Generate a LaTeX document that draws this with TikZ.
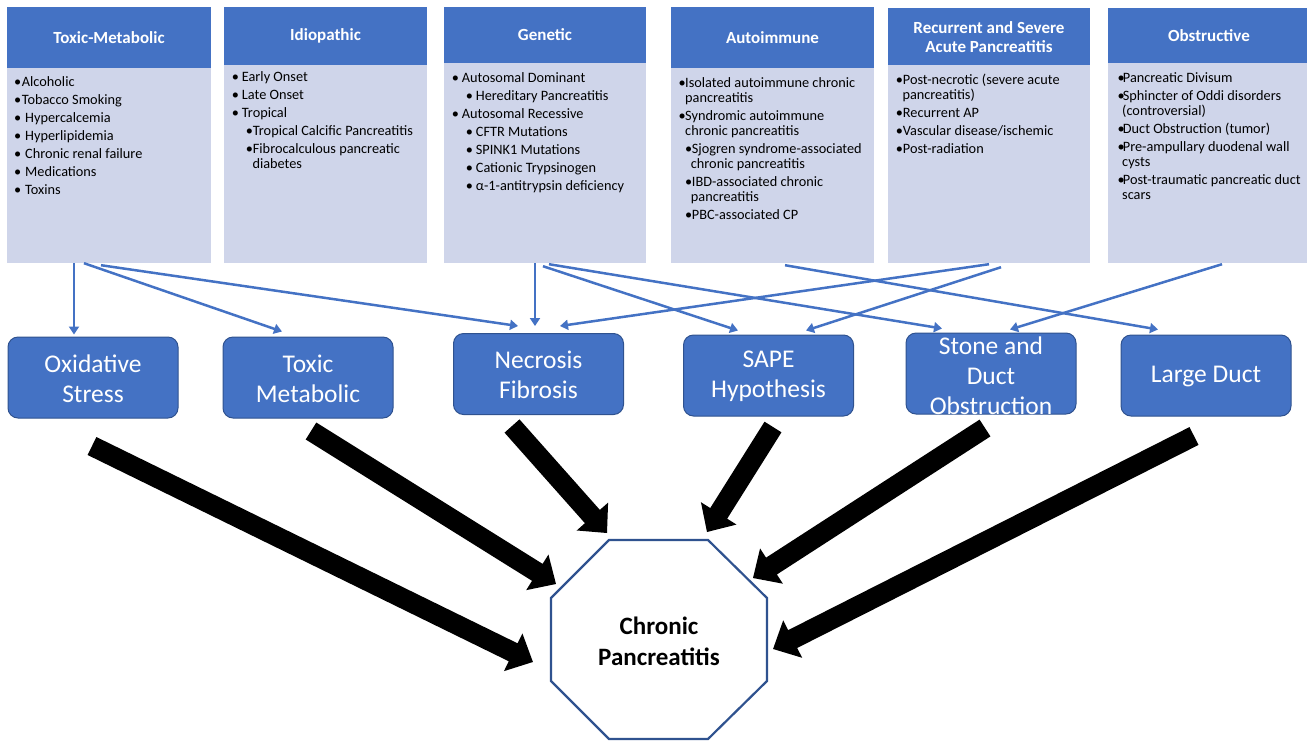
\documentclass[tikz,border=0pt]{standalone}
\usepackage{fontspec}
\setmainfont{Carlito}
\usetikzlibrary{arrows.meta,calc}
\definecolor{hdrblue}{HTML}{4472C4}
\definecolor{bodyblue}{HTML}{CFD5EA}
\definecolor{edgeblue}{HTML}{2F528F}
\newcommand\itm[3]{\hspace*{#1pt}\makebox[#2pt][l]{\textbullet}#3}
\newcommand\cnt[2]{\hspace*{#1pt}#2}
\newcommand\blockarrow[2]{%
  \pgfmathanglebetweenpoints{\pgfpointanchor{#1}{center}}{\pgfpointanchor{#2}{center}}%
  \edef\baang{\pgfmathresult}%
  \pgfpointdiff{\pgfpointanchor{#1}{center}}{\pgfpointanchor{#2}{center}}%
  \pgfgetlastxy{\badx}{\bady}%
  \pgfmathsetmacro\balen{veclen(\badx,\bady)}%
  \fill[black,shift={(#1)},rotate=\baang,x=1pt,y=1pt]
    (0,-10) -- ({\balen-22},-10) -- ({\balen-22},-21) -- (\balen,0)
    -- ({\balen-22},21) -- ({\balen-22},10) -- (0,10) -- cycle;}
\tikzset{
  hdr/.style={fill=hdrblue, text=white, font=\fontsize{17}{18.3}\selectfont\bfseries, align=center, inner sep=0pt},
  bodybox/.style={fill=bodyblue, inner sep=0pt},
  bodytxt/.style={anchor=north west, inner sep=0pt, align=left, font=\fontsize{14.3}{15}\selectfont},
  mech/.style={rounded corners=10pt, fill=hdrblue, draw=edgeblue, line width=1pt, minimum width=170pt, minimum height=81pt, inner sep=0pt},
  mechtxt/.style={text=white, align=center, font=\fontsize{25.5}{30}\selectfont, inner sep=0pt},
  link/.style={draw=hdrblue, line width=2.5pt, -{Triangle[length=8pt,width=10pt]}},
}
\begin{document}
\begin{tikzpicture}[x=1pt,y=-1pt]
\useasboundingbox (0,0) rectangle (1307,740);
% ---- top category boxes
\node[hdr, minimum width=204pt, minimum height=61pt] (h1) at (109,37.5) {Toxic-Metabolic};
\node[bodybox, minimum width=204pt, minimum height=195pt] (b1) at (109,165.5) {};
\node[hdr, minimum width=203pt, minimum height=58pt] (h2) at (325.5,36) {Idiopathic};
\node[bodybox, minimum width=203pt, minimum height=198pt] (b2) at (325.5,164) {};
\node[hdr, minimum width=202pt, minimum height=56pt] (h3) at (545,35) {Genetic};
\node[bodybox, minimum width=202pt, minimum height=200pt] (b3) at (545,163) {};
\node[hdr, minimum width=203pt, minimum height=61pt] (h4) at (772.5,37.5) {Autoimmune};
\node[bodybox, minimum width=203pt, minimum height=195pt] (b4) at (772.5,165.5) {};
\node[hdr, minimum width=202pt, minimum height=58pt] (h5) at (989,37) {Recurrent and Severe\\Acute Pancreatitis};
\node[bodybox, minimum width=202pt, minimum height=198pt] (b5) at (989,164) {};
\node[hdr, minimum width=202pt, minimum height=56pt] (h6) at (1209,35.5) {Obstructive};
\node[bodybox, minimum width=202pt, minimum height=200pt] (b6) at (1209,163) {};
% ---- body texts
\node[bodytxt] (t1) at (14,76.2) {\strut\itm{0}{7.7}{Alcoholic}\\[3pt]\itm{0}{7.7}{Tobacco Smoking}\\[3pt]\itm{0}{11}{Hypercalcemia}\\[3pt]\itm{0}{11}{Hyperlipidemia}\\[3pt]\itm{0}{11}{Chronic renal failure}\\[3pt]\itm{0}{11}{Medications}\\[3pt]\itm{0}{11}{Toxins}};
\node[bodytxt] (t2) at (231.7,71.2) {\strut\itm{0}{10}{Early Onset}\\[3pt]\itm{0}{10}{Late Onset}\\[3pt]\itm{0}{10}{Tropical}\\[3pt]\itm{14}{7}{Tropical Calcific Pancreatitis}\\[3pt]\itm{14}{7}{Fibrocalculous pancreatic}\\\cnt{20.6}{diabetes}};
\node[bodytxt] (t3) at (451.7,71.5) {\strut\itm{0}{10}{Autosomal Dominant}\\[3pt]\itm{14}{10}{Hereditary Pancreatitis}\\[3pt]\itm{0}{10}{Autosomal Recessive}\\[3pt]\itm{14}{10}{CFTR Mutations}\\[3pt]\itm{14}{10}{SPINK1 Mutations}\\[3pt]\itm{14}{10}{Cationic Trypsinogen}\\[3pt]\itm{14}{10}{α-1-antitrypsin deficiency}};
\node[bodytxt] (t4) at (678.3,76.8) {\strut\itm{0}{6.7}{Isolated autoimmune chronic}\\\cnt{6.7}{pancreatitis}\\[3pt]\itm{0}{6.7}{Syndromic autoimmune}\\\cnt{6.7}{chronic pancreatitis}\\[3pt]\itm{6.7}{6.7}{Sjogren syndrome-associated}\\\cnt{12.4}{chronic pancreatitis}\\[3pt]\itm{6.7}{6.7}{IBD-associated chronic}\\\cnt{12.4}{pancreatitis}\\[3pt]\itm{6.7}{6.7}{PBC-associated CP}};
\node[bodytxt] (t5) at (895.7,73.5) {\strut\itm{0}{7}{Post-necrotic (severe acute}\\\cnt{6.6}{pancreatitis)}\\[3pt]\itm{0}{7}{Recurrent AP}\\[3pt]\itm{0}{7}{Vascular disease/ischemic}\\[3pt]\itm{0}{7}{Post-radiation}};
\node[bodytxt] (t6) at (1117.3,71.5) {\strut\itm{0}{5.4}{Pancreatic Divisum}\\[3pt]\itm{0}{5.4}{Sphincter of Oddi disorders}\\\cnt{4.7}{(controversial)}\\[3pt]\itm{0}{5.4}{Duct Obstruction (tumor)}\\[3pt]\itm{0}{5.4}{Pre-ampullary duodenal wall}\\\cnt{4.7}{cysts}\\[3pt]\itm{0}{5.4}{Post-traumatic pancreatic duct}\\\cnt{4.7}{scars}};
% ---- mechanism boxes
\node[mech] (os) at (93,377.5) {};
\node[mech] (tmb) at (308,377.5) {};
\node[mech] (nf) at (538.5,374) {};
\node[mech] (sape) at (768.5,375.5) {};
\node[mech] (stone) at (991,373.5) {};
\node[mech] (ld) at (1206,375.5) {};
\node[mechtxt] (os-t) at ([yshift=-1pt]os) {Oxidative\\Stress};
\node[mechtxt] (tmb-t) at ([yshift=-1pt]tmb) {Toxic\\Metabolic};
\node[mechtxt] (nf-t) at ([yshift=-1pt]nf) {Necrosis\\Fibrosis};
\node[mechtxt] (sape-t) at ([yshift=-1pt]sape) {SAPE\\Hypothesis};
\node[mechtxt] (stone-t) at ([yshift=-2pt]stone) {Stone and\\Duct\\Obstruction};
\node[mechtxt] (ld-t) at ([yshift=-1pt]ld) {Large Duct};
% ---- thin connectors
\draw[link] ([xshift=-35pt]b1.south) -- ([xshift=-19pt,yshift=2pt]os.north);
\draw[link] ([xshift=-25pt]b1.south) -- ([xshift=-26pt,yshift=5pt]tmb.north);
\draw[link] ([xshift=-8pt,yshift=-2pt]b1.south) -- ([xshift=-20.5pt,yshift=7pt]nf.north);
\draw[link] ([xshift=-10pt]b3.south) -- ([xshift=-3.5pt,yshift=7pt]nf.north);
\draw[link] ([xshift=-2pt,yshift=-3pt]b3.south) -- ([xshift=-30.5pt,yshift=4pt]sape.north);
\draw[link] ([xshift=4pt,yshift=-1pt]b3.south) -- ([xshift=-49pt,yshift=4pt]stone.north);
\draw[link] ([xshift=12.5pt,yshift=-2pt]b4.south) -- ([xshift=-48pt,yshift=5pt]ld.north);
\draw[link] ([xshift=0pt,yshift=-1pt]b5.south) -- ([xshift=21.5pt,yshift=7pt]nf.north);
\draw[link] ([xshift=12pt,yshift=-4pt]b5.south) -- ([xshift=37.5pt,yshift=4pt]sape.north);
\draw[link] ([xshift=13pt,yshift=-1pt]b6.south) -- ([xshift=19pt,yshift=3pt]stone.north);
% ---- octagon
\draw[edgeblue, line width=2.2pt, fill=white] (609,540) -- (708,540) -- (767,598) -- (767,681) -- (708,739) -- (609,739) -- (551,681) -- (551,598) -- cycle;
\node[font=\fontsize{25}{31}\selectfont\bfseries, align=center, inner sep=0pt] (cp) at (659,641) {Chronic\\Pancreatitis};
% ---- block arrows
\coordinate (a1s) at (92,446);   \coordinate (a1e) at (533,662);
\coordinate (a2s) at (311,431);  \coordinate (a2e) at (556,584);
\coordinate (a3s) at (512,426);  \coordinate (a3e) at (607,533);
\coordinate (a4s) at (773,427);  \coordinate (a4e) at (707,532);
\coordinate (a5s) at (985,428);  \coordinate (a5e) at (753,578);
\coordinate (a6s) at (1194,436); \coordinate (a6e) at (773,649);
\blockarrow{a1s}{a1e}
\blockarrow{a2s}{a2e}
\blockarrow{a3s}{a3e}
\blockarrow{a4s}{a4e}
\blockarrow{a5s}{a5e}
\blockarrow{a6s}{a6e}
\end{tikzpicture}
\end{document}
